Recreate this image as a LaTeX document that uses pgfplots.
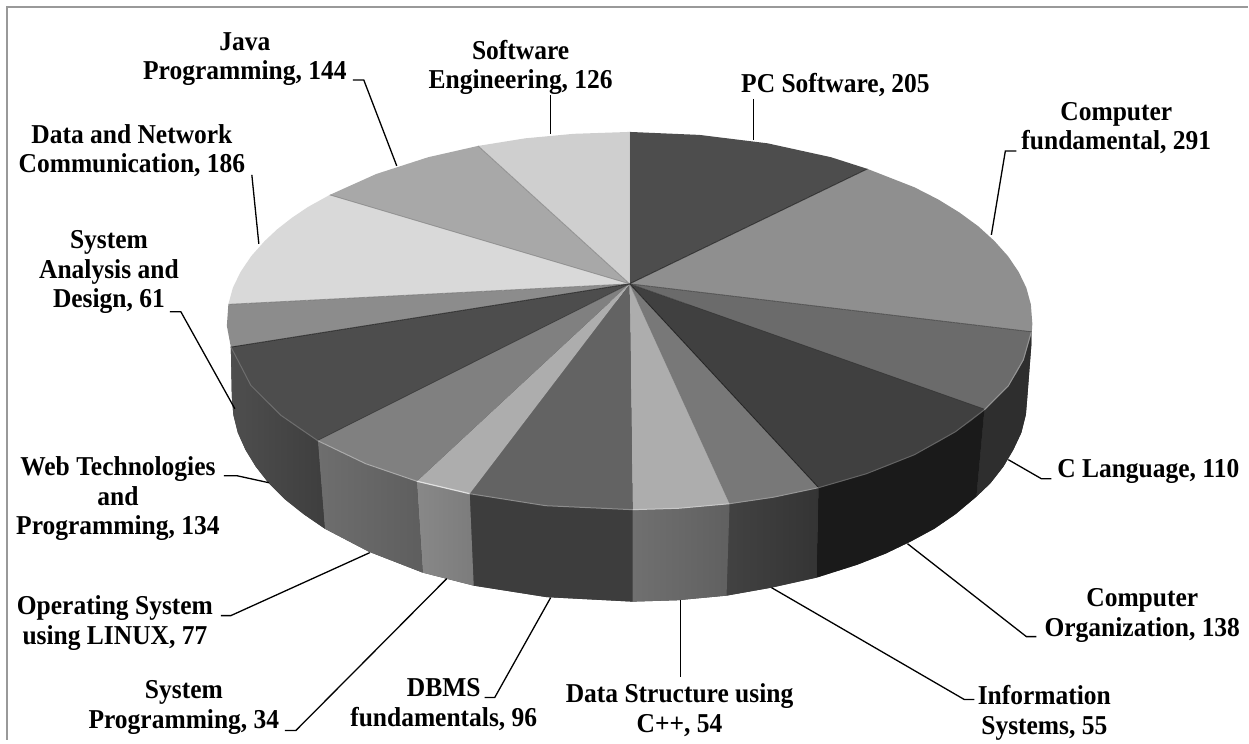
\documentclass[border=0pt]{standalone}
\usepackage{pgfplots}
\usepackage{fontspec}
\setmainfont{Liberation Serif}
\pgfplotsset{compat=1.18}
\newcommand{\lab}[3]{\node[anchor=south,inner sep=0pt,align=center,text=black,yscale=1.07,transform shape,font=\fontsize{25.5}{27.5}\selectfont\bfseries] at (axis cs:#1,#2) {#3\strut};}
\tikzset{lead/.style={draw=black,line width=1.3pt},sep/.style={line width=0.8pt,opacity=0.6}}
\begin{document}
\begin{tikzpicture}
\begin{axis}[scale only axis,width=1249pt,height=740pt,xmin=0,xmax=1249,ymin=0,ymax=740,y dir=reverse,hide axis,clip=false]
\path (axis cs:0,0) rectangle (axis cs:1249,740);
% frame
\addplot[draw={rgb,255:red,153;green,153;blue,153},line width=1.6pt] coordinates {(7,740)(7,7)(1249,7)};
% backing of the side wall
\addplot[fill={rgb,255:red,70;green,70;blue,70},draw=none] coordinates {(1032,332)(1032,345)(1028,397)(1026.5,415)(1022,433)(1014,450)(1004,467)(991,483.6)(977,497)(956,514.6)(935,529)(911,542)(886,554)(858,565)(817,578)(772,588)(727,596)(678,600.6)(633,602)(547,597.5)(474,586)(423,573)(369,552)(325,529)(304,514.6)(285,499.5)(269,483.6)(256,467)(245.6,450)(238,433)(233.5,415)(232,397)(231,347)(630,300)};
% sides
\addplot[fill={rgb,255:red,46;green,46;blue,46},draw=none] coordinates {(1032,332)(1024,360)(1017,373)(1009,386)(985,410)(977,497)(991,483.6)(1004,467)(1014,450)(1022,433)(1026.5,415)(1028,397)(1032,345)};
\addplot[fill={rgb,255:red,26;green,26;blue,26},draw=none] coordinates {(985,410)(956,432)(915,455)(867,474)(819,488)(817,578)(858,565)(886,554)(911,542)(935,529)(956,514.6)(977,497)};
\addplot[left color={rgb,255:red,66;green,66;blue,66},right color={rgb,255:red,52;green,52;blue,52},draw=none] coordinates {(819,488)(774,497.5)(730,504)(727,596)(772,588)(817,578)};
\addplot[left color={rgb,255:red,112;green,112;blue,112},right color={rgb,255:red,96;green,96;blue,96},draw=none] coordinates {(730,504)(679,508.6)(633,510)(633,602)(678,600.6)(727,596)};
\addplot[fill={rgb,255:red,61;green,61;blue,61},draw=none] coordinates {(633,510)(546,506)(470,494)(474,586)(547,597.5)(633,602)};
\addplot[left color={rgb,255:red,136;green,136;blue,136},right color={rgb,255:red,124;green,124;blue,124},draw=none] coordinates {(470,494)(417,481.5)(423,573)(474,586)};
\addplot[left color={rgb,255:red,110;green,110;blue,110},right color={rgb,255:red,94;green,94;blue,94},draw=none] coordinates {(417,481.5)(366,464)(318,441)(325,529)(369,552)(423,573)};
\addplot[left color={rgb,255:red,78;green,78;blue,78},right color={rgb,255:red,62;green,62;blue,62},draw=none] coordinates {(318,441)(281,415.5)(251,385.6)(231,347)(232,397)(233.5,415)(238,433)(245.6,450)(256,467)(269,483.6)(285,499.5)(304,514.6)(325,529)};
% top faces
\addplot[fill={rgb,255:red,77;green,77;blue,77},draw=none] coordinates {(630,284)(630,132)(700,135)(768,143.4)(831.5,157.3)(868,169)};
\addplot[fill={rgb,255:red,143;green,143;blue,143},draw=none] coordinates {(630,284)(868,169)(915,187.4)(938.7,199.5)(960,212.6)(979,226.5)(995,241.1)(1008.7,256.4)(1019.3,272.1)(1027,288)(1031.5,304.5)(1033,324)(1032.5,332)};
\addplot[fill={rgb,255:red,107;green,107;blue,107},draw=none] coordinates {(630,284)(1032.5,332)(1024.2,360.3)(1017.3,373)(1008.7,385.6)(985.8,409.7)};
\addplot[fill={rgb,255:red,64;green,64;blue,64},draw=none] coordinates {(630,284)(985.8,409.7)(971.7,421.2)(956,432.1)(938.7,442.5)(915,454.6)(889,465.8)(867,473.9)(843.6,481.3)(819,487.9)};
\addplot[fill={rgb,255:red,120;green,120;blue,120},draw=none] coordinates {(630,284)(819,487.9)(774.4,497.5)(730.3,504.1)};
\addplot[fill={rgb,255:red,173;green,173;blue,173},draw=none] coordinates {(630,284)(730.3,504.1)(679,508.6)(633,510)};
\addplot[fill={rgb,255:red,99;green,99;blue,99},draw=none] coordinates {(630,284)(633,510)(546.2,505.8)(470,494)};
\addplot[fill={rgb,255:red,173;green,173;blue,173},draw=none] coordinates {(630,284)(470,494)(417.2,481.5)};
\addplot[fill={rgb,255:red,128;green,128;blue,128},draw=none] coordinates {(630,284)(417.2,481.5)(365.6,463.7)(340,452)(318,440.6)};
\addplot[fill={rgb,255:red,77;green,77;blue,77},draw=none] coordinates {(630,284)(318,440.6)(300,429.5)(281,415.5)(265,401)(251.3,385.6)(239,366.7)(231,347.3)};
\addplot[fill={rgb,255:red,140;green,140;blue,140},draw=none] coordinates {(630,284)(231,347.3)(227,326)(228.5,304.5)};
\addplot[fill={rgb,255:red,217;green,217;blue,217},draw=none] coordinates {(630,284)(228.5,304.5)(233,288)(240.7,272.1)(251.3,256.4)(264.9,241.1)(277.4,229.4)(292,218)(308,207.2)(330,195)};
\addplot[fill={rgb,255:red,168;green,168;blue,168},draw=none] coordinates {(630,284)(330,195)(376.5,174.1)(428.5,157.3)(478.4,146)};
\addplot[fill={rgb,255:red,207;green,207;blue,207},draw=none] coordinates {(630,284)(478.4,146)(525.6,138.4)(574,133.9)(630,132)};
% radial seams
\addplot[sep,draw=black] coordinates {(630,284)(868,169)};
\addplot[sep,draw=black!80] coordinates {(630,284)(1032.5,332)};
\addplot[sep,draw=black!80] coordinates {(630,284)(985.8,409.7)};
\addplot[sep,draw=black] coordinates {(630,284)(819,487.9)};
\addplot[sep,draw=black!55] coordinates {(630,284)(730.3,504.1)};
\addplot[sep,draw=black!60] coordinates {(630,284)(228.5,304.5)};
\addplot[sep,draw=black] coordinates {(630,284)(231,347.3)};
\addplot[sep,draw=black!80] coordinates {(630,284)(318,440.6)};
\addplot[sep,draw=black!55] coordinates {(630,284)(330,195)};
\addplot[sep,draw=black!55] coordinates {(630,284)(478.4,146)};
% rim highlights
\addplot[line width=1pt,draw={rgb,255:red,170;green,170;blue,170}] coordinates {(417,481.5)(366,464)(318,441)};
\addplot[line width=1.2pt,draw={rgb,255:red,225;green,225;blue,225}] coordinates {(470,494)(417,481.5)};
\addplot[line width=1pt,draw={rgb,255:red,140;green,140;blue,140}] coordinates {(633,510)(546,506)(470,494)};
\addplot[line width=1pt,draw={rgb,255:red,200;green,200;blue,200}] coordinates {(730,504)(679,508.6)(633,510)};
\addplot[line width=1pt,draw={rgb,255:red,150;green,150;blue,150}] coordinates {(819,488)(774,497.5)(730,504)};
\addplot[line width=1pt,draw={rgb,255:red,100;green,100;blue,100}] coordinates {(985,410)(956,432)(915,455)(867,474)(819,488)};
\addplot[line width=1pt,draw={rgb,255:red,150;green,150;blue,150}] coordinates {(1032,332)(1024,360)(1009,386)(985,410)};
\addplot[line width=1pt,draw={rgb,255:red,110;green,110;blue,110}] coordinates {(318,441)(281,415.5)(251,385.6)(231,347)};
% leader lines
\addplot[lead] coordinates {(754,99)(754,140)};
\addplot[lead] coordinates {(1017,151)(1006,151)(992,235)};
\addplot[lead] coordinates {(1052,479)(1042,479)(1009,460)};
\addplot[lead] coordinates {(1037,637)(1027,637)(908,544)};
\addplot[lead] coordinates {(975,700)(965,700)(772,588)};
\addplot[lead] coordinates {(681,600)(681,677)};
\addplot[lead] coordinates {(485,698)(495,698)(551,598)};
\addplot[lead] coordinates {(285,731)(296,731)(447,579)};
\addplot[lead] coordinates {(221,616)(231,616)(370,553)};
\addplot[lead] coordinates {(224,476)(237,476)(269,483)};
\addplot[lead] coordinates {(170,312)(181,312)(235,409)};
\addplot[lead] coordinates {(252,175)(259,244)};
\addplot[lead] coordinates {(353,80)(364,80)(397,166)};
\addplot[lead] coordinates {(551,95)(551,134)};
% labels
\lab{836}{101.8}{PC Software, 205}
\lab{1117}{158.8}{Computer\\fundamental, 291}
\lab{1149}{486.8}{C Language, 110}
\lab{1143}{645.8}{Computer\\Organization, 138}
\lab{1045}{743.8}{Information\\Systems, 55}
\lab{680}{741.8}{Data Structure using\\C++, 54}
\lab{444}{735.8}{DBMS\\fundamentals, 96}
\lab{184}{737.8}{System\\Programming, 34}
\lab{115}{653.8}{Operating System\\using LINUX, 77}
\lab{118}{543.8}{Web Technologies\\and\\Programming, 134}
\lab{109}{316.8}{System\\Analysis and\\Design, 61}
\lab{132}{181.8}{Data and Network\\Communication, 186}
\lab{245}{88.8}{Java\\Programming, 144}
\lab{521}{97.8}{Software\\Engineering, 126}
\end{axis}
\end{tikzpicture}
\end{document}
